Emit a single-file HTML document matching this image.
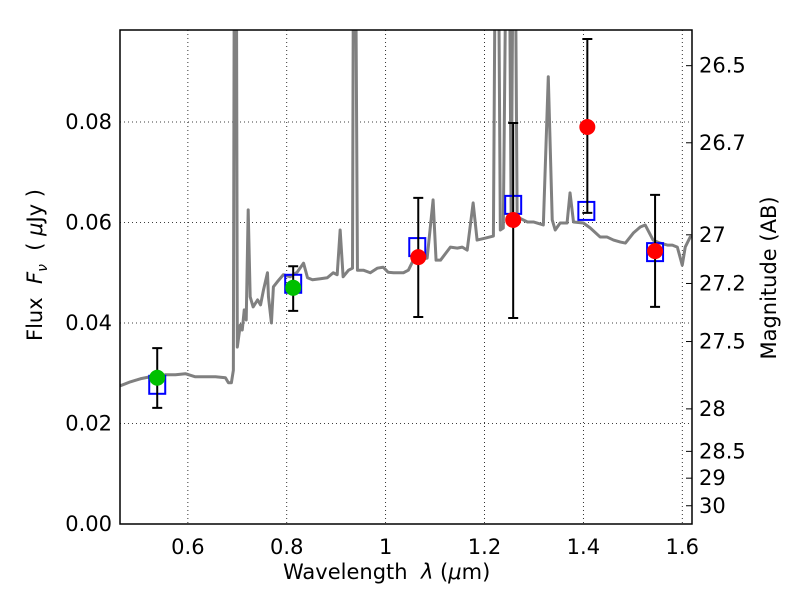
<!DOCTYPE html>
<html><head><meta charset="utf-8"><style>
body{margin:0;background:#fff;}
svg{display:block;font-family:"DejaVu Sans","Liberation Sans",sans-serif;}
</style></head><body>
<svg id="chart" width="800" height="600" xmlns="http://www.w3.org/2000/svg"></svg>
<script>
const specLambda=[0.463,0.484,0.504,0.524,0.538,0.554,0.575,0.595,0.615,0.635,0.656,0.676,0.682,0.688,0.692,0.694,0.698,0.700,0.706,0.710,0.714,0.718,0.722,0.726,0.732,0.741,0.747,0.753,0.761,0.763,0.769,0.773,0.781,0.793,0.807,0.821,0.834,0.842,0.852,0.868,0.882,0.894,0.902,0.908,0.914,0.925,0.933,0.935,0.939,0.943,0.955,0.969,0.983,0.995,1.005,1.016,1.036,1.046,1.056,1.070,1.084,1.096,1.102,1.111,1.131,1.145,1.155,1.165,1.177,1.185,1.202,1.218,1.222,1.228,1.232,1.238,1.244,1.250,1.254,1.258,1.262,1.266,1.287,1.299,1.319,1.329,1.337,1.343,1.353,1.367,1.373,1.380,1.400,1.414,1.434,1.448,1.461,1.475,1.485,1.501,1.515,1.525,1.541,1.555,1.570,1.580,1.590,1.600,1.606,1.616,1.620];
const specFlux=[0.0275,0.0283,0.0289,0.0293,0.0291,0.0297,0.0297,0.0299,0.0293,0.0293,0.0293,0.0291,0.0281,0.0281,0.0306,0.12,0.12,0.0352,0.0396,0.0386,0.0426,0.0406,0.0625,0.0452,0.0432,0.0446,0.0436,0.0466,0.0500,0.0452,0.0400,0.0472,0.0482,0.0496,0.0492,0.0501,0.0519,0.0490,0.0486,0.0488,0.0490,0.0500,0.0496,0.0585,0.0492,0.0505,0.0509,0.12,0.12,0.0505,0.0505,0.0500,0.0509,0.0511,0.0501,0.0500,0.0500,0.0505,0.0525,0.0527,0.0529,0.0645,0.0525,0.0525,0.0551,0.0549,0.0551,0.0545,0.0639,0.0565,0.0569,0.0573,0.12,0.12,0.0585,0.0589,0.12,0.12,0.0595,0.12,0.12,0.0611,0.0601,0.0601,0.0595,0.0890,0.0605,0.0585,0.0599,0.0599,0.0659,0.0601,0.0599,0.0589,0.0571,0.0571,0.0565,0.0561,0.0559,0.0579,0.0591,0.0595,0.0565,0.0559,0.0555,0.0555,0.0551,0.0515,0.0551,0.0571,0.0573];
const greenLambda=[0.538,0.813];
const greenFlux=[0.0291,0.0470];
const greenErrHi=[0.0350,0.0513];
const greenErrLo=[0.0231,0.0424];
const redLambda=[1.066,1.258,1.408,1.545];
const redFlux=[0.0531,0.0605,0.0790,0.0543];
const redErrHi=[0.0649,0.0798,0.0965,0.0655];
const redErrLo=[0.0412,0.0410,0.0619,0.0432];
const modelLambda=[0.538,0.813,1.064,1.258,1.406,1.545];
const modelFlux=[0.0277,0.0478,0.0551,0.0635,0.0623,0.0541];
const xTicks=[0.6,0.8,1.0,1.2,1.4,1.6];
const xTickLabels=["0.6","0.8","1","1.2","1.4","1.6"];
const yTicks=[0,0.02,0.04,0.06,0.08];
const yTickLabels=["0.00","0.02","0.04","0.06","0.08"];
const magTicks=[26.5,26.7,27,27.2,27.5,28,28.5,29,30];
const magTickLabels=["26.5","26.7","27","27.2","27.5","28","28.5","29","30"];

const L=120,R=692,T=30,B=524;
const xMin=0.4627,xMax=1.6197,yMin=0,yMax=0.0983;
const X=v=>L+(v-xMin)/(xMax-xMin)*(R-L);
const Y=v=>B-(v-yMin)/(yMax-yMin)*(B-T);
const magToFlux=m=>Math.pow(10,(23.9-m)/2.5);
const svg=document.getElementById('chart');
const NS='http://www.w3.org/2000/svg';
function mk(tag,attrs,parent){const e=document.createElementNS(NS,tag);for(const k in attrs)e.setAttribute(k,attrs[k]);(parent||svg).appendChild(e);return e;}

const defs=mk('defs',{});
const cp=mk('clipPath',{id:'clip'},defs);
mk('rect',{x:L,y:T,width:R-L,height:B-T},cp);

xTicks.forEach((t,i)=>{
  const g=mk('line',{x1:X(t),x2:X(t),y1:T,y2:B,stroke:'#000','stroke-width':0.8,'stroke-dasharray':'1,3'});
  
  
  const tk=mk('text',{x:X(t),y:554,'font-size':21,'text-anchor':'middle'});
  tk.textContent=xTickLabels[i];
  
  
});
yTicks.forEach((t,i)=>{
  const g=mk('line',{x1:L,x2:R,y1:Y(t),y2:Y(t),stroke:'#000','stroke-width':0.8,'stroke-dasharray':'1,3'});
  
  
  const tk=mk('text',{x:112,y:Y(t)+7,'font-size':21,'text-anchor':'end'});
  tk.textContent=yTickLabels[i];
  
  
});
magTicks.forEach((m,i)=>{
  const yy=Y(magToFlux(m));
  const tl=mk('line',{x1:R-6,x2:R,y1:yy,y2:yy,stroke:'#000','stroke-width':1});
  
  
  const tk=mk('text',{x:699,y:yy+7,'font-size':21,'text-anchor':'start'});
  tk.textContent=magTickLabels[i];
  
  
});

const plot=mk('g',{'clip-path':'url(#clip)'});


const sp=mk('polyline',{points:specLambda.map((l,i)=>X(l)+','+Y(specFlux[i])).join(' '),fill:'none',stroke:'#808080','stroke-width':3,'stroke-linejoin':'round'},plot);



modelLambda.forEach((l,i)=>{
  const s=mk('rect',{x:X(l)-8,y:Y(modelFlux[i])-9,width:16,height:18,fill:'none',stroke:'#0000ff','stroke-width':2},plot);
  
  
});
function errbar(l,lo,hi){
  const x=X(l);
  const e=mk('path',{d:`M${x},${Y(hi)}V${Y(lo)}M${x-5},${Y(hi)}H${x+5}M${x-5},${Y(lo)}H${x+5}`,stroke:'#000','stroke-width':2,fill:'none'},plot);
  
  
}
greenLambda.forEach((l,i)=>{
  errbar(l,greenErrLo[i],greenErrHi[i]);
  const c=mk('circle',{cx:X(l),cy:Y(greenFlux[i]),r:8,fill:'#00c000'},plot);
  
  
});
redLambda.forEach((l,i)=>{
  errbar(l,redErrLo[i],redErrHi[i]);
  const c=mk('circle',{cx:X(l),cy:Y(redFlux[i]),r:8,fill:'#ff0000'},plot);
  
  
});

const fr=mk('rect',{x:L,y:T,width:R-L,height:B-T,fill:'none',stroke:'#000','stroke-width':1.5});


</script>
<div style="position:absolute;left:0;top:0;width:800px;height:600px;pointer-events:none;font-family:'DejaVu Sans','Liberation Sans',sans-serif;">
  <div style="position:absolute;left:283px;top:560px;font-size:21px;white-space:nowrap;">Wavelength &nbsp;<i>λ</i> (<i>μ</i>m)</div>
  <div style="position:absolute;left:37px;top:265px;transform:translate(-50%,-50%) rotate(-90deg);font-size:21px;white-space:nowrap;">Flux &nbsp;<i>F<sub style="font-size:14px">ν</sub></i> &nbsp;( <i>μ</i>Jy )</div>
  <div style="position:absolute;left:769px;top:278px;transform:translate(-50%,-50%) rotate(-90deg);font-size:21px;white-space:nowrap;">Magnitude (AB)</div>
</div>
</body></html>
